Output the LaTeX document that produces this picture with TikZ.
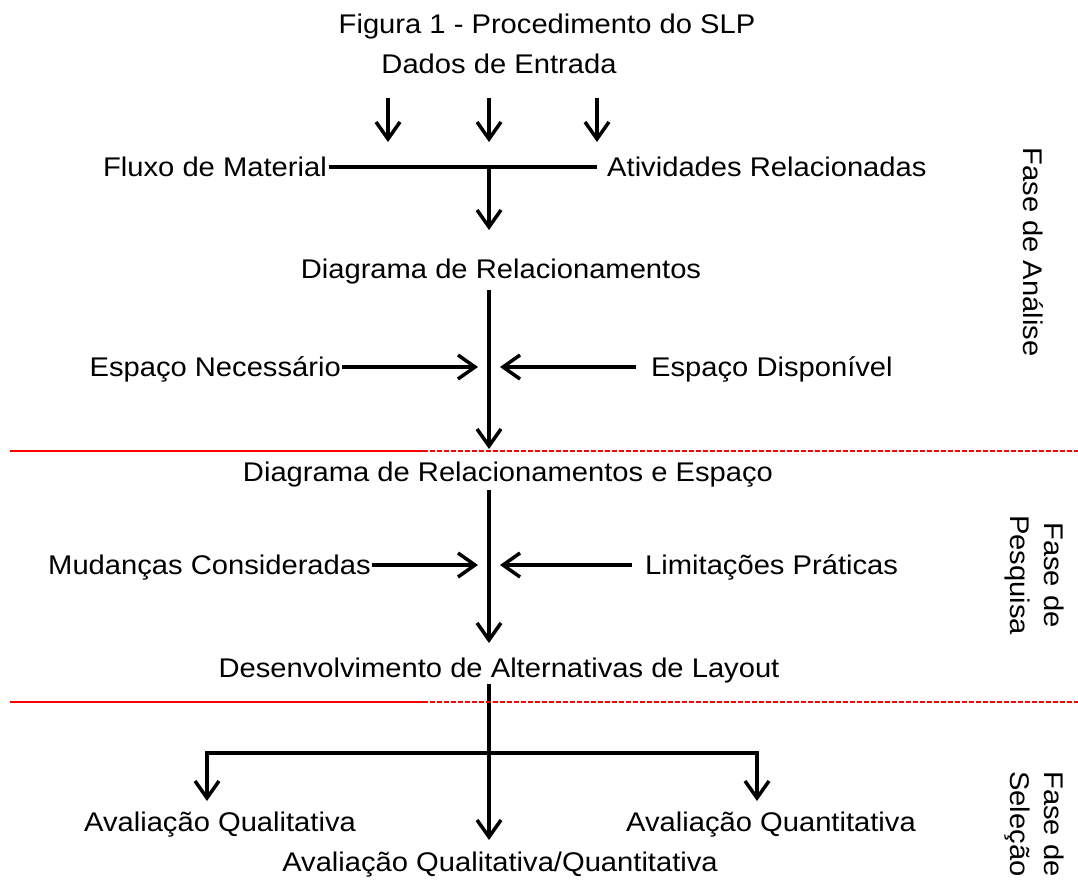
\documentclass[tikz,border=0pt]{standalone}
\usepackage{fontspec}
\setmainfont{Liberation Sans}[FakeStretch=1.08]
\usetikzlibrary{arrows.meta}

\begin{document}
\begin{tikzpicture}[
    x=1pt, y=-1pt,
    every node/.append style = {font=\fontsize{27}{34}\selectfont, inner sep=1pt},
    seta/.style = {line width=3.5pt, -{Straight Barb[length=17pt, width=24pt]}},
    linha/.style = {line width=4pt},
    fase/.style = {rotate=-90, align=center},
    divisa/.style = {red, line width=2.5pt}
  ]
  \useasboundingbox (0,0) rectangle (1078,884);
  % titulo e entrada
  \node[anchor=base] (titulo) at (547,33) {Figura 1 - Procedimento do SLP};
  \node[anchor=base] (dados) at (499,73) {Dados de Entrada};
  \foreach \xx/\nome in {388/a, 489/b, 597/c} {
    \coordinate (ent\nome) at (\xx,98);
    \coordinate (ent\nome f) at (\xx,142);
    \draw[seta] (ent\nome) -- (ent\nome f);
  }
  % fase de analise
  \node[anchor=base east] (fluxo) at (328,176) {Fluxo de Material};
  \node[anchor=base west] (ativ) at (606,176) {Atividades Relacionadas};
  \coordinate (barraE) at (329,167);
  \coordinate (barraD) at (597,167);
  \coordinate (m1) at (489,167);
  \coordinate (m1f) at (489,230);
  \draw[linha] (barraE) -- (barraD);
  \draw[seta] (m1) -- (m1f);
  \node[anchor=base] (diag) at (501,278) {Diagrama de Relacionamentos};
  \coordinate (m2) at (489,290);
  \coordinate (m2f) at (489,449);
  \draw[seta] (m2) -- (m2f);
  \node[anchor=base east] (necess) at (342,376) {Espaço Necessário};
  \node[anchor=base west] (dispon) at (650,376) {Espaço Disponível};
  \coordinate (necf) at (478,367);
  \coordinate (disi) at (636,367);
  \coordinate (disf) at (500,367);
  \draw[seta] (necess.east |- necf) -- (necf);
  \draw[seta] (disi) -- (disf);
  % fase de pesquisa
  \node[anchor=base] (diagesp) at (508,481) {Diagrama de Relacionamentos e Espaço};
  \coordinate (m3) at (489,490);
  \coordinate (m3f) at (489,643);
  \draw[seta] (m3) -- (m3f);
  \node[anchor=base east] (mudan) at (372,574) {Mudanças Consideradas};
  \node[anchor=base west] (limit) at (644,574) {Limitações Práticas};
  \coordinate (mudf) at (478,565);
  \coordinate (limi) at (632,565);
  \coordinate (limf) at (500,565);
  \draw[seta] (mudan.east |- mudf) -- (mudf);
  \draw[seta] (limi) -- (limf);
  \node[anchor=base] (desenv) at (499,677) {Desenvolvimento de Alternativas de Layout};
  % fase de selecao
  \coordinate (m4) at (489,684);
  \coordinate (m4f) at (489,840);
  \coordinate (ramoE) at (207,753);
  \coordinate (ramoD) at (757,753);
  \coordinate (ramoEf) at (207,801);
  \coordinate (ramoDf) at (757,801);
  \draw[seta] (m4) -- (m4f);
  \draw[seta] (ramoD) -- (ramoE) -- (ramoEf);
  \draw[seta] (ramoE) -- (ramoD) -- (ramoDf);
  \node[anchor=base] (avqual) at (220,831) {Avaliação Qualitativa};
  \node[anchor=base] (avquan) at (771,831) {Avaliação Quantitativa};
  \node[anchor=base] (avambas) at (500,871) {Avaliação Qualitativa/Quantitativa};
  % divisas das fases
  \foreach \yy in {451, 702} {
    \draw[divisa] (10,\yy) -- (423,\yy);
    \draw[divisa, dash pattern=on 5pt off 2pt] (423,\yy) -- (1078,\yy);
  }
  \node[fase] (analise) at (1033,252) {Fase de Análise};
  \node[fase] (pesquisa) at (1034,575) {Fase de\\Pesquisa};
  \node[fase] (selecao) at (1034,824) {Fase de\\Seleção};
\end{tikzpicture}
\end{document}
